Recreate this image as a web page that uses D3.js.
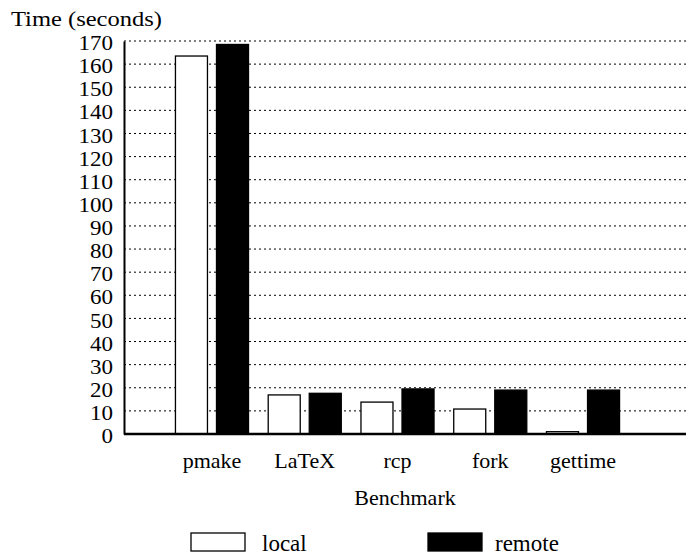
<!DOCTYPE html>
<html>
<head>
<meta charset="utf-8">
<script src="https://cdn.jsdelivr.net/npm/d3@7"></script>
<style>
  body { margin: 0; background: #fff; }
  text { font-family: "Liberation Serif", "Times New Roman", serif; fill: #000; }
</style>
</head>
<body>
<script>
(function () {
  "use strict";
  var w = 697, h = 557;

  var benchmarks = ["pmake", "LaTeX", "rcp", "fork", "gettime"];
  var series = ["local", "remote"];
  var localTimes = [163.5, 16.9, 13.8, 10.8, 1.0];
  var remoteTimes = [168.5, 17.6, 19.5, 19.0, 19.0];
  var yTicks = d3.range(0, 171, 10);

  var rows = benchmarks.map(function (b, i) {
    return { name: b, local: localTimes[i], remote: remoteTimes[i] };
  });

  var svg = d3.select("body").append("svg")
              .attr("width", w)
              .attr("height", h);

  var left = 124, right = 686, top = 41, bottom = 434;
  var serif = "'Liberation Serif', 'Times New Roman', serif";

  var y = d3.scaleLinear().domain([0, 170]).range([bottom, top]);
  var x = d3.scaleBand().domain(benchmarks).range([165.6, 629.4]).padding(0);
  var xs = d3.scaleBand().domain(series).range([0, x.bandwidth()])
             .paddingInner(0.22).paddingOuter(0.24);

  // dotted grid
  svg.append("g").selectAll("line")
     .data(yTicks.filter(d => d > 0))
     .enter().append("line")
     .attr("x1", left).attr("x2", right)
     .attr("y1", d => y(d)).attr("y2", d => y(d))
     .attr("stroke", "#000").attr("stroke-width", 1)
     .attr("stroke-dasharray", "2,3");

  // y axis
  var yAxis = d3.axisLeft(y).tickValues(yTicks).tickSize(0).tickPadding(11);
  var ga = svg.append("g").attr("transform", "translate(" + left + ",0)").call(yAxis);
  ga.attr("font-family", serif);
  ga.select(".domain").attr("stroke", "#000").attr("stroke-width", 2);
  ga.selectAll("text")
    .style("font-size", "20.5px")
    .attr("textLength", d => String(d).length * 11.5)
    .attr("lengthAdjust", "spacingAndGlyphs")
    .attr("dy", "0.42em");

  // bars
  var groups = svg.append("g").selectAll("g")
     .data(rows).enter().append("g")
     .attr("transform", d => "translate(" + x(d.name) + ",0)");
  groups.selectAll("rect")
     .data(d => series.map(s => ({ key: s, value: d[s] })))
     .enter().append("rect")
     .attr("x", d => xs(d.key))
     .attr("width", xs.bandwidth())
     .attr("y", d => y(d.value))
     .attr("height", d => y(0) - y(d.value))
     .attr("fill", d => d.key === "local" ? "#fff" : "#000")
     .attr("stroke", "#000").attr("stroke-width", 1.3);

  // baseline
  svg.append("line")
     .attr("x1", left).attr("x2", right)
     .attr("y1", y(0)).attr("y2", y(0))
     .attr("stroke", "#000").attr("stroke-width", 2.5);

  // category labels
  var xAxis = d3.axisBottom(x).tickSize(0).tickPadding(18);
  var gx = svg.append("g").attr("transform", "translate(0," + bottom + ")").call(xAxis);
  gx.attr("font-family", serif);
  gx.select(".domain").remove();
  gx.selectAll("text")
    .style("font-size", "22px");

  svg.append("text").attr("x", 11).attr("y", 26)
     .style("font-size", "22px")
     .attr("textLength", 151).attr("lengthAdjust", "spacingAndGlyphs")
     .text("Time (seconds)");
  svg.append("text").attr("x", 405).attr("y", 505)
     .attr("text-anchor", "middle")
     .style("font-size", "22px").text("Benchmark");

  // legend
  var legend = [
    { key: "local", bx: 191, tx: 262 },
    { key: "remote", bx: 428, tx: 495 }
  ];
  var lg = svg.append("g").selectAll("g").data(legend).enter().append("g");
  lg.append("rect")
    .attr("x", d => d.bx).attr("y", 533)
    .attr("width", 54).attr("height", 18)
    .attr("fill", d => d.key === "local" ? "#fff" : "#000")
    .attr("stroke", "#000").attr("stroke-width", 1.3);
  lg.append("text")
    .attr("x", d => d.tx).attr("y", 551)
    .style("font-size", "23px")
    .text(d => d.key);
})();
</script>
</body>
</html>
